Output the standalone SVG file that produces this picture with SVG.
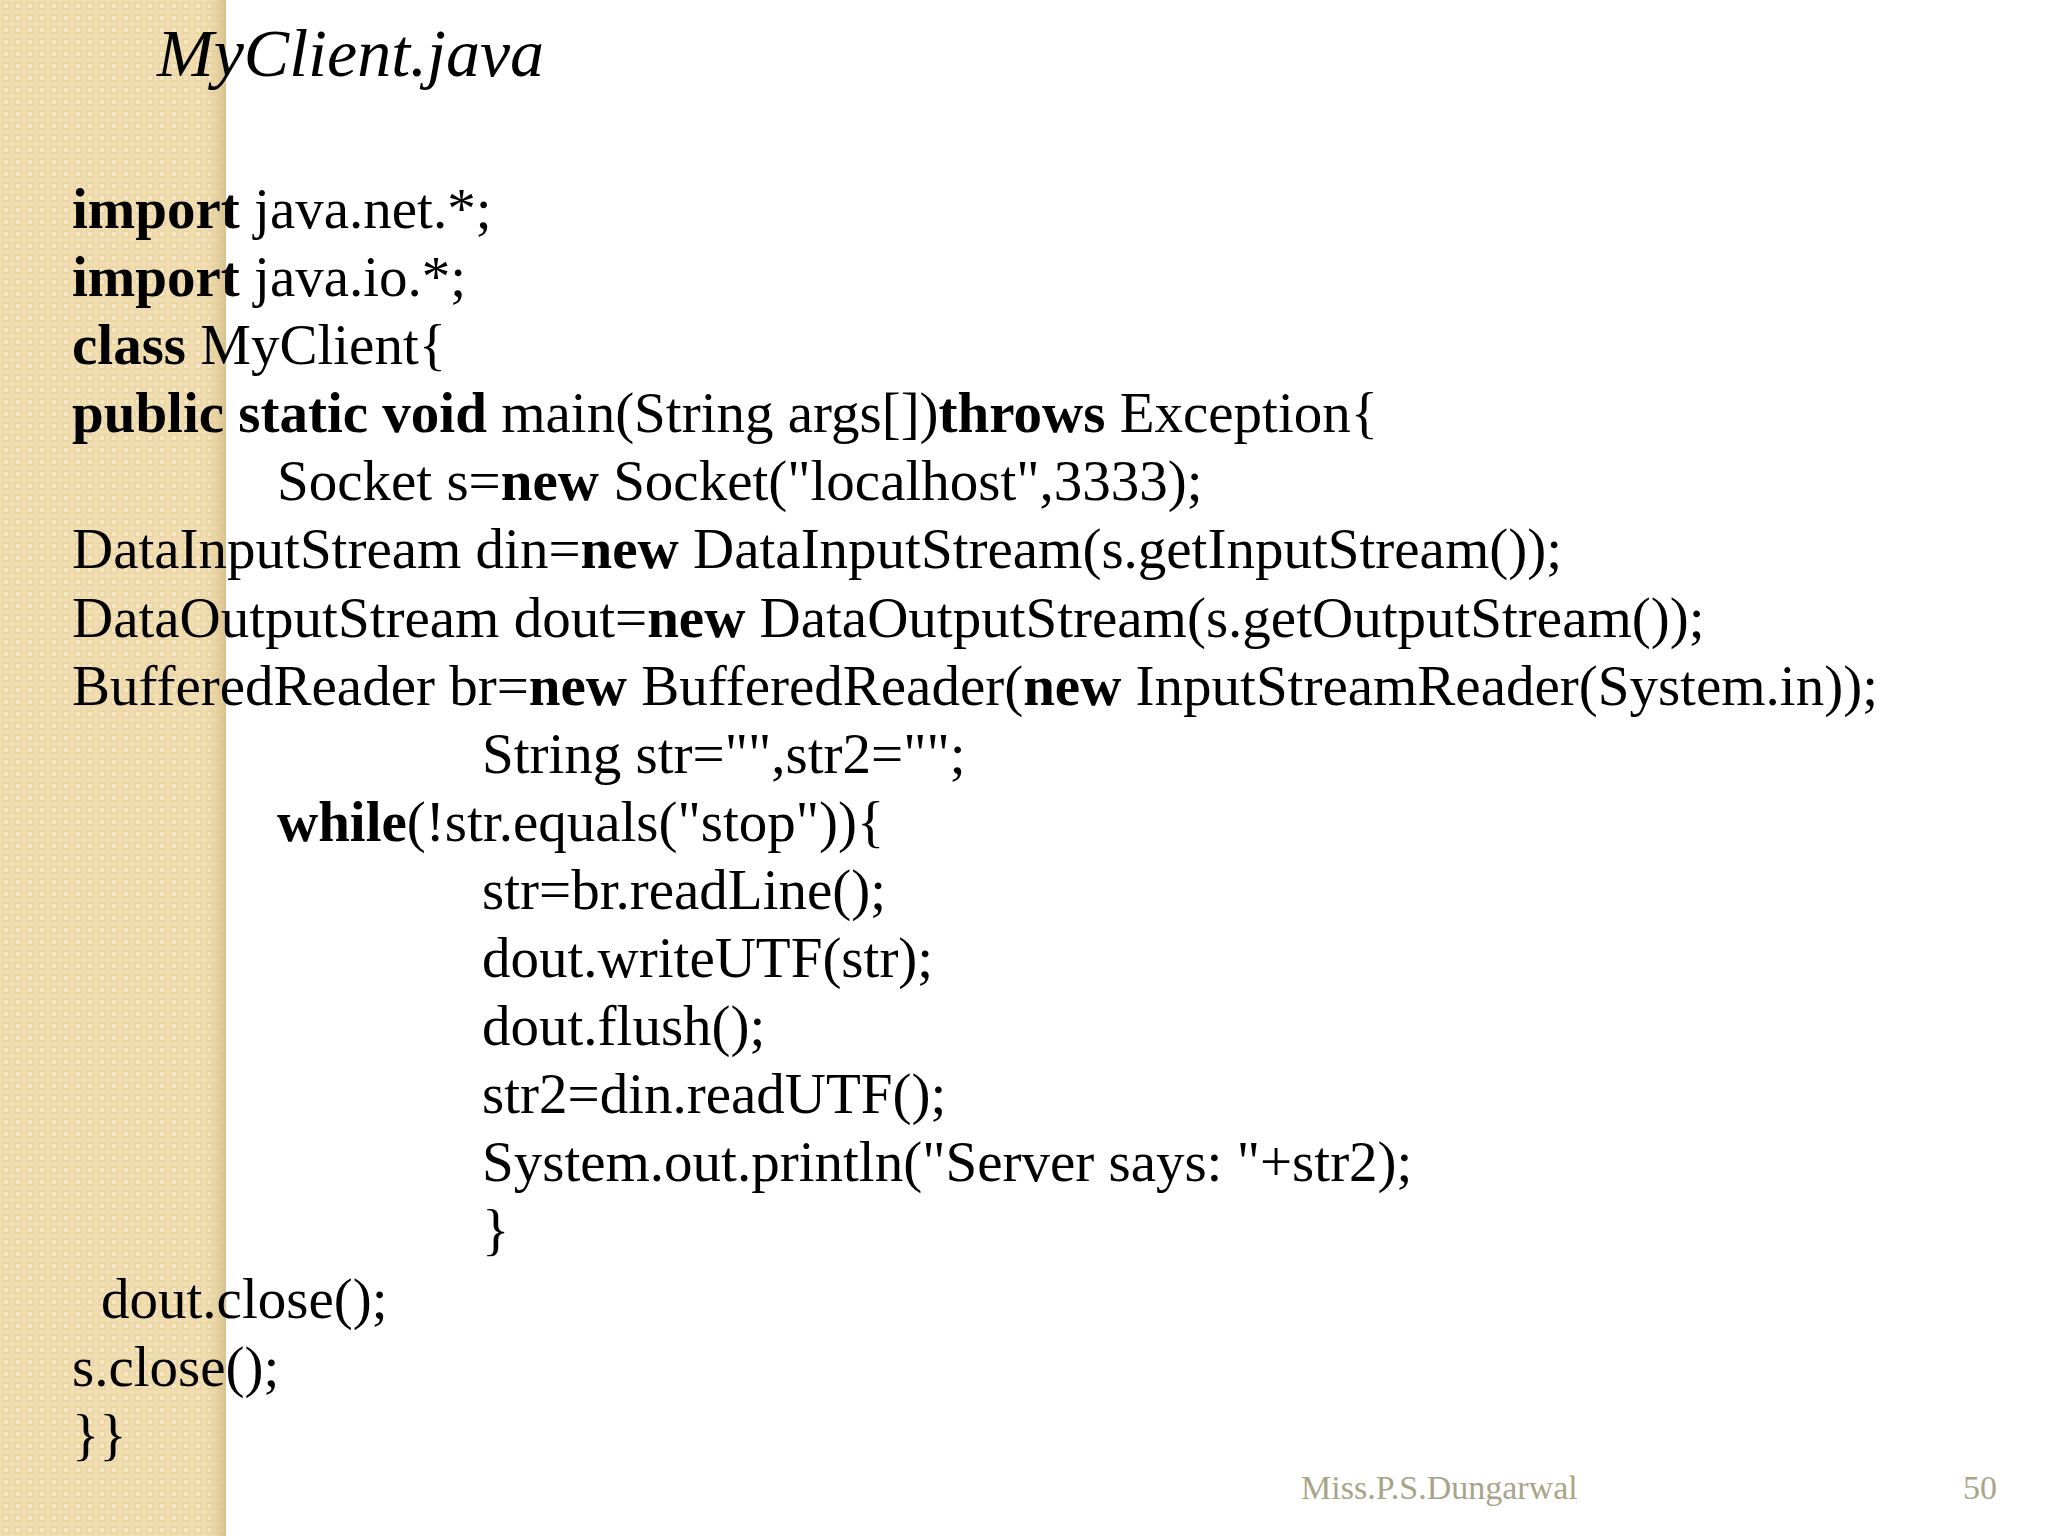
<svg xmlns="http://www.w3.org/2000/svg" width="2048" height="1536" viewBox="0 0 2048 1536">
<defs>
<pattern id="chk" width="12" height="12" patternUnits="userSpaceOnUse">
<rect width="12" height="12" fill="#f0deb2"/>
<rect x="2" y="2" width="8" height="8" fill="#ecd6a4"/>
<rect x="4" y="4" width="4" height="4" fill="#f4e6c4"/>
</pattern>
<linearGradient id="sh" x1="0" x2="1">
<stop offset="0" stop-color="#e2cc98" stop-opacity="0"/>
<stop offset="1" stop-color="#d9c290"/>
</linearGradient>
<style>
.c{font-family:"Liberation Serif","Times New Roman",serif;font-size:57px;fill:#000}
.b{font-weight:bold}
.f{font-family:"Liberation Serif",serif;font-size:34px;fill:#a9a487}
</style>
</defs>
<rect width="2048" height="1536" fill="#fff"/>
<rect width="226" height="1536" fill="url(#chk)"/>
<rect x="206" width="20" height="1536" fill="url(#sh)"/>
<text x="157" y="76" font-family="Liberation Serif,serif" font-style="italic" font-size="68">MyClient.java</text>
<g class="c" xml:space="preserve">
<text x="72" y="228"><tspan class="b">import</tspan> java.net.*;</text>
<text x="72" y="296"><tspan class="b">import</tspan> java.io.*;</text>
<text x="72" y="364"><tspan class="b">class</tspan> MyClient{</text>
<text x="72" y="432"><tspan class="b">public static void</tspan> main(String args[])<tspan class="b">throws</tspan> Exception{</text>
<text x="277" y="500">Socket s=<tspan class="b">new</tspan> Socket("localhost",3333);</text>
<text x="72" y="568">DataInputStream din=<tspan class="b">new</tspan> DataInputStream(s.getInputStream());</text>
<text x="72" y="637">DataOutputStream dout=<tspan class="b">new</tspan> DataOutputStream(s.getOutputStream());</text>
<text x="72" y="705">BufferedReader br=<tspan class="b">new</tspan> BufferedReader(<tspan class="b">new</tspan> InputStreamReader(System.in));</text>
<text x="482" y="773">String str="",str2="";</text>
<text x="277" y="841"><tspan class="b">while</tspan>(!str.equals("stop")){</text>
<text x="482" y="909">str=br.readLine();</text>
<text x="482" y="977">dout.writeUTF(str);</text>
<text x="482" y="1045">dout.flush();</text>
<text x="482" y="1113">str2=din.readUTF();</text>
<text x="482" y="1181">System.out.println("Server says: "+str2);</text>
<text x="482" y="1249">}</text>
<text x="101" y="1318">dout.close();</text>
<text x="72" y="1386">s.close();</text>
<text x="72" y="1454">}}</text>
</g>
<text class="f" x="1301" y="1499">Miss.P.S.Dungarwal</text>
<text class="f" x="1963" y="1499">50</text>
</svg>
